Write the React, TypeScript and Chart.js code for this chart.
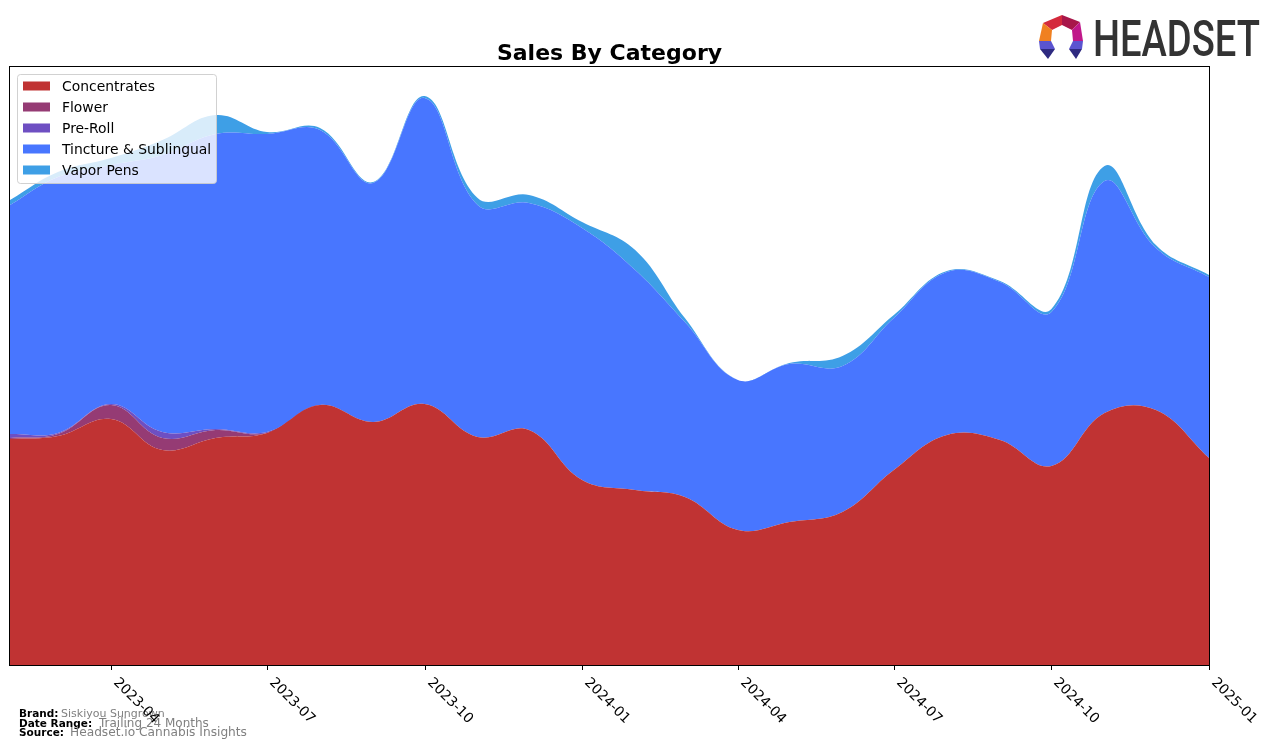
import React, { useEffect, useRef } from "react";
import { Chart, registerables } from "chart.js";

Chart.register(...registerables);

const MONTHS = [
  "2023-02", "2023-03", "2023-04", "2023-05", "2023-06", "2023-07",
  "2023-08", "2023-09", "2023-10", "2023-11", "2023-12", "2024-01",
  "2024-02", "2024-03", "2024-04", "2024-05", "2024-06", "2024-07",
  "2024-08", "2024-09", "2024-10", "2024-11", "2024-12", "2025-01",
];

const TICK_LABELS = [
  "2023-04", "2023-07", "2023-10", "2024-01",
  "2024-04", "2024-07", "2024-10", "2025-01",
];

const SERIES_NAMES = [
  "Concentrates",
  "Flower",
  "Pre-Roll",
  "Tincture & Sublingual",
  "Vapor Pens",
];

const CONCENTRATES = [226, 229, 246, 215, 227, 232, 260, 243, 261, 228, 235, 185, 175, 168, 135, 143, 153, 195, 230, 225, 199, 252, 255, 207];
const FLOWER = [1, 2, 14, 12, 8, 0, 0, 0, 0, 0, 0, 0, 0, 0, 0, 0, 0, 0, 0, 0, 0, 0, 0, 0];
const PRE_ROLL = [4, 1, 1, 6, 1, 1, 0, 0, 0, 0, 0, 0, 0, 0, 0, 0, 0, 0, 0, 0, 0, 0, 0, 0];
const TINCTURE = [229, 256, 239, 277, 295, 298, 275, 239, 306, 232, 227, 252, 220, 175, 150, 158, 146, 152, 163, 158, 154, 232, 162, 181];
const VAPOR_PENS = [5, 5, 7, 15, 19, 2, 2, 1, 2, 7, 8, 6, 20, 4, 0, 1, 10, 3, 1, 1, 3, 15, 3, 2];

const SERIES_VALUES = [CONCENTRATES, FLOWER, PRE_ROLL, TINCTURE, VAPOR_PENS];
const COLORS = ["#c03333", "#953b74", "#6e4fc2", "#4876ff", "#3e9fe6"];

const Y_MAX = 598;

const FOOTER = [
  { label: "Brand:", value: "Siskiyou Sungrown" },
  { label: "Date Range:", value: "Trailing 24 Months" },
  { label: "Source:", value: "Headset.io Cannabis Insights" },
];

function dayOf(ym: string): number {
  const [y, m] = ym.split("-").map(Number);
  const [y0, m0] = MONTHS[0].split("-").map(Number);
  return (Date.UTC(y, m - 1, 1) - Date.UTC(y0, m0 - 1, 1)) / 86400000;
}

const FONT = "'DejaVu Sans', sans-serif";

const decorPlugin = {
  id: "decor",
  afterDraw(chart: any) {
    const ctx: CanvasRenderingContext2D = chart.ctx;
    const a = chart.chartArea;
    const xs = chart.scales.x;
    ctx.save();

    // frame
    ctx.strokeStyle = "#000";
    ctx.lineWidth = 1;
    ctx.strokeRect(a.left - 0.5, a.top - 0.5, a.right - a.left + 1, a.bottom - a.top + 1);

    // footer
    const baselines = [717, 726.5, 736];
    const valueX = [61, 99, 70];
    const valueSize = [11, 12, 12.2];
    FOOTER.forEach((f, i) => {
      ctx.fillStyle = "#000";
      ctx.font = `bold 10.5px ${FONT}`;
      ctx.textAlign = "left";
      ctx.textBaseline = "alphabetic";
      ctx.fillText(f.label, 19, baselines[i]);
      ctx.fillStyle = "#808080";
      ctx.font = `${valueSize[i]}px ${FONT}`;
      ctx.fillText(f.value, valueX[i], baselines[i]);
    });

    // x ticks and rotated labels
    ctx.fillStyle = "#000";
    ctx.strokeStyle = "#000";
    ctx.font = `13.9px ${FONT}`;
    TICK_LABELS.forEach((lab) => {
      const x = Math.round(xs.getPixelForValue(dayOf(lab)));
      ctx.beginPath();
      ctx.moveTo(x + 0.5, a.bottom);
      ctx.lineTo(x + 0.5, a.bottom + 5);
      ctx.stroke();
      ctx.save();
      ctx.translate(x + 2, a.bottom + 18);
      ctx.rotate(Math.PI / 4);
      ctx.textAlign = "left";
      ctx.textBaseline = "alphabetic";
      ctx.fillText(lab, 0, 0);
      ctx.restore();
    });

    // title
    ctx.fillStyle = "#000";
    ctx.font = `bold 22px ${FONT}`;
    ctx.textAlign = "center";
    ctx.textBaseline = "alphabetic";
    ctx.fillText("Sales By Category", (a.left + a.right) / 2, 60);

    // legend
    const lx = 17.5, ly = 74.5, lw = 199, lh = 109;
    ctx.beginPath();
    (ctx as any).roundRect(lx, ly, lw, lh, 3);
    ctx.fillStyle = "rgba(255,255,255,0.8)";
    ctx.fill();
    ctx.strokeStyle = "rgba(204,204,204,0.9)";
    ctx.lineWidth = 1;
    ctx.stroke();
    ctx.font = `13.9px ${FONT}`;
    ctx.textAlign = "left";
    ctx.textBaseline = "middle";
    SERIES_NAMES.forEach((name, i) => {
      const cy = 86 + i * 21;
      ctx.fillStyle = COLORS[i];
      ctx.fillRect(23, cy - 4.5, 27, 9);
      ctx.fillStyle = "#000";
      ctx.fillText(name, 62, cy + 1);
    });

    // HEADSET logo
    const ox = 1038, oy = 14;
    const poly = (pts: number[][], color: string) => {
      ctx.beginPath();
      pts.forEach(([px, py], k) => {
        if (k === 0) ctx.moveTo(ox + px, oy + py);
        else ctx.lineTo(ox + px, oy + py);
      });
      ctx.closePath();
      ctx.fillStyle = color;
      ctx.fill();
    };
    poly([[5, 9], [24, 1], [24, 11], [14, 16]], "#d42a3c");
    poly([[24, 1], [42, 8], [34, 16], [24, 11]], "#a8174a");
    poly([[42, 8], [45, 27], [35, 27], [34, 16]], "#c0188a");
    poly([[5, 9], [14, 16], [13, 27], [1, 27]], "#f08020");
    poly([[1, 27], [13, 27], [17, 35], [2, 35]], "#5b54d0");
    poly([[2, 35], [17, 35], [10, 45]], "#2e2a80");
    poly([[35, 27], [45, 27], [44, 35], [31, 35]], "#5b54d0");
    poly([[31, 35], [44, 35], [38, 45]], "#2e2a80");

    ctx.fillStyle = "#333333";
    ctx.font = `500 50px Roboto, ${FONT}`;
    ctx.textAlign = "left";
    ctx.textBaseline = "alphabetic";
    const w = ctx.measureText("HEADSET").width;
    ctx.save();
    ctx.translate(1093, 56);
    ctx.scale(167 / w, 1);
    ctx.fillText("HEADSET", 0, 0);
    ctx.restore();

    ctx.restore();
  },
};

export default function App() {
  const canvasRef = useRef<HTMLCanvasElement | null>(null);

  useEffect(() => {
    if (!canvasRef.current) return;
    const xs = MONTHS.map(dayOf);
    const datasets = SERIES_NAMES.map((name, i) => ({
      label: name,
      data: SERIES_VALUES[i].map((v, k) => ({ x: xs[k], y: v })),
      backgroundColor: COLORS[i],
      borderColor: COLORS[i],
      borderWidth: 0,
      pointRadius: 0,
      tension: 0.4,
      fill: i === 0 ? "origin" : "-1",
    }));
    const chart = new Chart(canvasRef.current, {
      type: "line",
      data: { datasets },
      options: {
        animation: false,
        responsive: false,
        devicePixelRatio: 1,
        layout: { padding: { left: 10, right: 67, top: 67, bottom: 83 } },
        plugins: {
          legend: { display: false },
          title: { display: false },
          tooltip: { enabled: false },
        },
        scales: {
          x: { type: "linear", display: false, min: 0, max: dayOf(MONTHS[MONTHS.length - 1]) },
          y: { display: false, stacked: true, min: 0, max: Y_MAX },
        },
      },
      plugins: [decorPlugin],
    } as any);
    return () => chart.destroy();
  }, []);

  return (
    <div style={{ position: "fixed", left: 0, top: 0, width: 1276, height: 748, background: "#fff" }}>
      <canvas ref={canvasRef} width={1276} height={748} style={{ width: 1276, height: 748, display: "block" }} />
    </div>
  );
}
